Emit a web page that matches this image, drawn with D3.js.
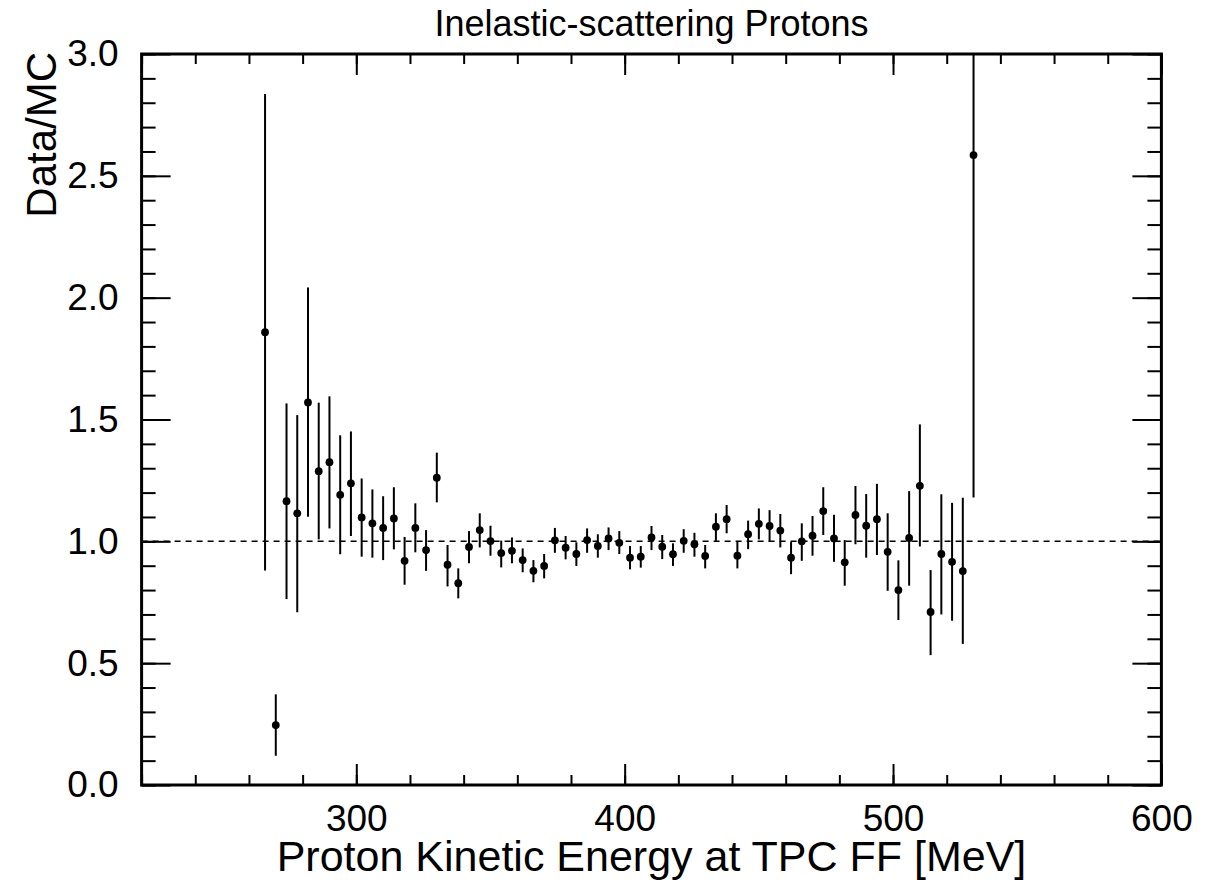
<!DOCTYPE html>
<html>
<head>
<meta charset="utf-8">
<script src="https://cdn.jsdelivr.net/npm/d3@7"></script>
<style>
  body { margin: 0; background: #fff; }
  svg text { font-family: "Liberation Sans", Arial, Helvetica, sans-serif; fill: #000; }
</style>
</head>
<body>
<div class="graph"></div>
<script>
// bin centres [MeV]
var energies = d3.range(266, 531, 4);

// data/MC ratio, with lower / upper end of the error bar
var ratio = [1.858, 0.246, 1.165, 1.115, 1.570, 1.288, 1.325, 1.191, 1.238, 1.098,
    1.074, 1.055, 1.094, 0.920, 1.055, 0.964, 1.261, 0.904, 0.828, 0.977,
    1.046, 1.001, 0.952, 0.961, 0.923, 0.879, 0.899, 1.004, 0.974, 0.948,
    1.005, 0.981, 1.012, 0.994, 0.933, 0.937, 1.016, 0.978, 0.947, 1.002,
    0.988, 0.940, 1.060, 1.091, 0.941, 1.029, 1.072, 1.063, 1.044, 0.933,
    1.000, 1.023, 1.124, 1.012, 0.914, 1.108, 1.064, 1.091, 0.957, 0.800,
    1.014, 1.228, 0.710, 0.948, 0.916, 0.878, 2.585];
var ratioLow = [0.880, 0.120, 0.763, 0.709, 1.101, 1.008, 1.053, 0.947, 1.022, 0.937,
    0.933, 0.923, 0.967, 0.822, 0.955, 0.879, 1.160, 0.815, 0.766, 0.910,
    0.975, 0.941, 0.893, 0.910, 0.873, 0.832, 0.848, 0.953, 0.926, 0.899,
    0.953, 0.933, 0.964, 0.948, 0.885, 0.892, 0.964, 0.927, 0.899, 0.953,
    0.937, 0.889, 1.002, 1.033, 0.889, 0.968, 1.008, 0.998, 0.975, 0.865,
    0.920, 0.941, 1.026, 0.916, 0.818, 0.988, 0.933, 0.944, 0.797, 0.677,
    0.818, 0.979, 0.533, 0.700, 0.674, 0.579, 1.180];
var ratioHigh = [2.836, 0.372, 1.566, 1.518, 2.042, 1.569, 1.595, 1.435, 1.451, 1.258,
    1.213, 1.185, 1.222, 1.018, 1.156, 1.046, 1.364, 0.985, 0.889, 1.042,
    1.115, 1.064, 1.003, 1.016, 0.971, 0.923, 0.948, 1.055, 1.022, 0.996,
    1.053, 1.029, 1.057, 1.042, 0.981, 0.981, 1.063, 1.026, 0.992, 1.050,
    1.035, 0.985, 1.115, 1.149, 0.998, 1.085, 1.135, 1.128, 1.112, 0.998,
    1.074, 1.104, 1.222, 1.109, 1.005, 1.227, 1.194, 1.236, 1.115, 0.922,
    1.206, 1.480, 0.882, 1.193, 1.158, 1.179, 3.990];

var xMajorTicks = [300, 400, 500, 600];
var xMinorTicks = d3.range(220, 601, 20);
var yMajorTicks = [0, 0.5, 1.0, 1.5, 2.0, 2.5, 3.0];
var yMinorTicks = d3.range(0, 31).map(function (d) { return d / 10; });

var loadChart = function () {
    const WIDTH = 1223;
    const HEIGHT = 880;
    const LEFT = 141.6, RIGHT = 1161.4, TOP = 54, BOTTOM = 785;

    var xScale = d3.scaleLinear().domain([220, 600]).range([LEFT, RIGHT]);
    var yScale = d3.scaleLinear().domain([0, 3]).range([BOTTOM, TOP]);

    var svg = d3.select(".graph").append("svg")
        .attr("width", WIDTH)
        .attr("height", HEIGHT);

    svg.append("defs").append("clipPath")
        .attr("id", "plotclip")
        .append("rect")
        .attr("x", LEFT).attr("y", TOP)
        .attr("width", RIGHT - LEFT).attr("height", BOTTOM - TOP);

    // ticks pointing inwards on all four sides
    var tickStyle = function (g) {
        g.select(".domain").remove();
        g.selectAll(".tick line").attr("stroke", "#000").attr("stroke-width", 2);
    };

    svg.append("g")
        .attr("transform", "translate(0," + BOTTOM + ")")
        .call(d3.axisBottom(xScale).tickValues(xMinorTicks).tickSize(-10).tickFormat(""))
        .call(tickStyle);
    svg.append("g")
        .attr("transform", "translate(0," + BOTTOM + ")")
        .call(d3.axisBottom(xScale).tickValues(xMajorTicks).tickSize(-21).tickPadding(20)
            .tickFormat(d3.format("d")))
        .call(tickStyle)
        .selectAll("text")
        .attr("font-size", 37)
        .attr("dy", "0.71em");
    svg.append("g")
        .attr("transform", "translate(0," + TOP + ")")
        .call(d3.axisTop(xScale).tickValues(xMinorTicks).tickSize(-10).tickFormat(""))
        .call(tickStyle);
    svg.append("g")
        .attr("transform", "translate(0," + TOP + ")")
        .call(d3.axisTop(xScale).tickValues(xMajorTicks).tickSize(-21).tickFormat(""))
        .call(tickStyle);

    svg.append("g")
        .attr("transform", "translate(" + LEFT + ",0)")
        .call(d3.axisLeft(yScale).tickValues(yMinorTicks).tickSize(-14).tickFormat(""))
        .call(tickStyle);
    svg.append("g")
        .attr("transform", "translate(" + LEFT + ",0)")
        .call(d3.axisLeft(yScale).tickValues(yMajorTicks).tickSize(-29).tickPadding(23)
            .tickFormat(d3.format(".1f")))
        .call(tickStyle)
        .selectAll("text")
        .attr("font-size", 37);
    svg.append("g")
        .attr("transform", "translate(" + RIGHT + ",0)")
        .call(d3.axisRight(yScale).tickValues(yMinorTicks).tickSize(-14).tickFormat(""))
        .call(tickStyle);
    svg.append("g")
        .attr("transform", "translate(" + RIGHT + ",0)")
        .call(d3.axisRight(yScale).tickValues(yMajorTicks).tickSize(-29).tickFormat(""))
        .call(tickStyle);

    // reference line at 1
    svg.append("line")
        .attr("x1", LEFT).attr("x2", RIGHT)
        .attr("y1", yScale(1)).attr("y2", yScale(1))
        .style("stroke", "#000")
        .style("stroke-width", 1.5)
        .style("stroke-dasharray", "6,5");

    var points = energies.map(function (e, i) {
        return {x: e, y: ratio[i], lo: ratioLow[i], hi: ratioHigh[i]};
    });

    var data = svg.append("g").attr("clip-path", "url(#plotclip)");
    data.selectAll("line.err")
        .data(points)
        .enter().append("line")
        .attr("class", "err")
        .attr("x1", function (d) { return xScale(d.x); })
        .attr("x2", function (d) { return xScale(d.x); })
        .attr("y1", function (d) { return yScale(d.lo); })
        .attr("y2", function (d) { return yScale(d.hi); })
        .style("stroke", "#000")
        .style("stroke-width", 2);
    data.selectAll("circle")
        .data(points)
        .enter().append("circle")
        .attr("cx", function (d) { return xScale(d.x); })
        .attr("cy", function (d) { return yScale(d.y); })
        .attr("r", 3.9)
        .style("fill", "#000");

    // frame
    svg.append("rect")
        .attr("x", LEFT).attr("y", TOP)
        .attr("width", RIGHT - LEFT).attr("height", BOTTOM - TOP)
        .style("fill", "none")
        .style("stroke", "#000")
        .style("stroke-width", 3);

    svg.append("text")
        .attr("x", (LEFT + RIGHT) / 2)
        .attr("y", 36)
        .attr("text-anchor", "middle")
        .attr("font-size", 36)
        .text("Inelastic-scattering Protons");

    svg.append("text")
        .attr("x", (LEFT + RIGHT) / 2)
        .attr("y", 871)
        .attr("text-anchor", "middle")
        .attr("font-size", 43)
        .text("Proton Kinetic Energy at TPC FF [MeV]");

    svg.append("text")
        .attr("transform", "translate(56," + (TOP - 2) + ") rotate(-90)")
        .attr("text-anchor", "end")
        .attr("font-size", 42)
        .text("Data/MC");
};

window.onload = loadChart;
</script>
</body>
</html>
